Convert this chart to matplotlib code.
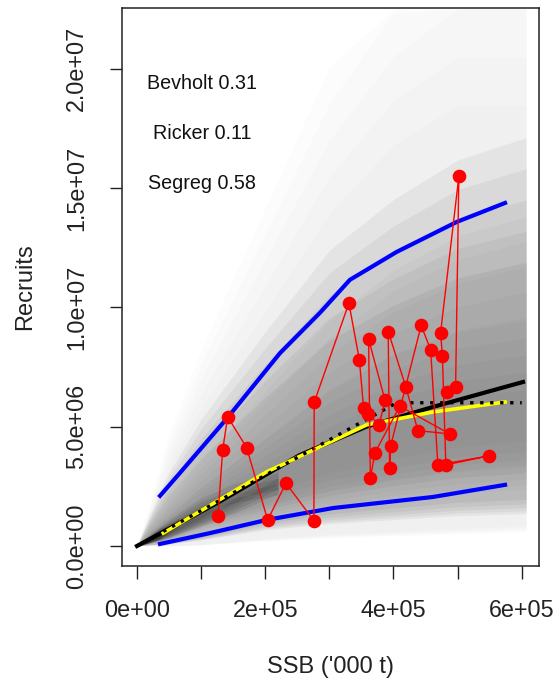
import numpy as np
import matplotlib
matplotlib.use("Agg")
from matplotlib import pyplot as plt

plt.rcParams['font.family'] = ['Liberation Sans', 'DejaVu Sans']

# observed stock-recruit pairs (SSB, recruits), in time order
ssb = [1.263e5, 1.336e5, 1.414e5, 1.710e5, 2.038e5, 2.323e5, 2.759e5, 2.764e5,
       3.305e5, 3.469e5, 3.534e5, 3.609e5, 3.777e5, 3.869e5, 3.612e5, 3.640e5,
       3.710e5, 4.100e5, 4.875e5, 4.381e5, 4.194e5, 3.918e5, 3.940e5, 3.957e5,
       4.432e5, 4.579e5, 4.693e5, 5.488e5, 4.817e5, 4.763e5, 4.735e5, 5.020e5,
       4.969e5, 4.828e5]
rec = [1.258e6, 4.025e6, 5.409e6, 4.122e6, 1.090e6, 2.629e6, 1.061e6, 6.017e6,
       1.0176e7, 7.786e6, 5.786e6, 5.535e6, 5.086e6, 6.101e6, 8.667e6, 2.851e6,
       3.899e6, 5.857e6, 4.696e6, 4.834e6, 6.654e6, 8.985e6, 3.258e6, 4.201e6,
       9.237e6, 8.231e6, 3.396e6, 3.774e6, 3.396e6, 7.967e6, 8.931e6, 1.5485e7,
       6.654e6, 6.470e6]

# percentile lines
p_ssb = [3.59e4, 6.7e4, 1.42e5, 2.23e5, 2.85e5, 3.32e5, 4.05e5, 4.99e5, 5.74e5]
p95 = [2.1e6, 3.06e6, 5.4e6, 8.08e6, 9.76e6, 1.115e7, 1.232e7, 1.358e7, 1.437e7]
q_ssb = [3.59e4, 1.14e5, 2.02e5, 3.06e5, 4.61e5, 5.74e5]
p05 = [8.4e4, 5.4e5, 1.09e6, 1.59e6, 2.05e6, 2.56e6]

med_ssb = [0, 1.25e5, 2.02e5, 2.54e5, 3.58e5, 4.61e5, 6.02e5]
med_rec = [0, 1.8e6, 3.0e6, 3.81e6, 5.0e6, 5.82e6, 6.87e6]

yel_ssb = [4.1e4, 2.02e5, 3.58e5, 4.61e5, 5.74e5]
yel_rec = [5.4e5, 3.1e6, 5.07e6, 5.61e6, 6.03e6]

seg_ssb = [0, 4.05e5, 6.0e5]
seg_rec = [0, 6.0e6, 6.0e6]

# simulated cloud, drawn as nested bands (edges)
cl_ssb = [0, 0.2e5, 0.5e5, 1e5, 2e5, 3e5, 4e5, 5e5, 6.07e5]
band_hi = [
    [0, 1.5e6, 4.0e6, 7.0e6, 1.2e7, 1.7e7, 2.05e7, 2.25e7, 2.25e7],
    [0, 1.1e6, 2.6e6, 4.5e6, 7.6e6, 1.05e7, 1.23e7, 1.37e7, 1.45e7],
    [0, 0.7e6, 1.6e6, 3.0e6, 5.5e6, 8.0e6, 9.8e6, 1.1e7, 1.17e7],
    [0, 0.5e6, 1.1e6, 2.1e6, 3.8e6, 5.5e6, 6.8e6, 7.6e6, 8.0e6],
]
band_lo = [
    [0, 0, 0, 0.05e6, 0.25e6, 0.4e6, 0.5e6, 0.6e6, 0.7e6],
    [0, 0.05e6, 0.1e6, 0.3e6, 0.8e6, 1.1e6, 1.3e6, 1.5e6, 1.6e6],
    [0, 0.1e6, 0.3e6, 0.8e6, 1.4e6, 1.9e6, 2.3e6, 2.6e6, 2.8e6],
    [0, 0.15e6, 0.4e6, 1.0e6, 1.8e6, 2.5e6, 3.0e6, 3.4e6, 3.6e6],
]
band_alpha = [0.06, 0.22, 0.09, 0.1]

core_ssb = [0, 0.2e5, 0.5e5, 1e5, 1.5e5, 2.2e5]
core_hi = [0, 0.4e6, 0.95e6, 1.7e6, 2.2e6, 2.6e6]
core_lo = [0, 0.15e6, 0.4e6, 0.95e6, 1.6e6, 2.6e6]

tip_ssb = [0, 0.15e5, 0.35e5, 0.65e5]
tip_hi = [0, 0.3e6, 0.65e6, 0.95e6]
tip_lo = [0, 0.1e6, 0.3e6, 0.95e6]

labels = ["Bevholt 0.31", "Ricker 0.11", "Segreg 0.58"]
label_y = [1.937e7, 1.7275e7, 1.518e7]

fig = plt.figure(figsize=(5.53, 6.83), dpi=100)
ax = fig.add_axes([122/553, 1-566/683, 417/553, 558/683])

# soften band edges by stacking slightly scaled copies
soft = [0.82, 0.91, 1.0, 1.09, 1.18]
for hi, lo, a in zip(band_hi, band_lo, band_alpha):
    per = 1 - (1 - a) ** (1 / len(soft))
    for k in soft:
        ax.fill_between(cl_ssb, np.array(lo) / k, np.minimum(np.array(hi) * k, 2.25e7),
                        color='black', alpha=per, lw=0)
for k in soft:
    ax.fill_between(core_ssb, np.array(core_lo) / k, np.array(core_hi) * k,
                    color='black', alpha=0.08, lw=0)
    ax.fill_between(tip_ssb, np.array(tip_lo) / k, np.array(tip_hi) * k,
                    color='black', alpha=0.1, lw=0)

ax.plot(p_ssb, p95, color='#0000ff', lw=3)
ax.plot(q_ssb, p05, color='#0000ff', lw=3)
ax.plot(med_ssb, med_rec, color='black', lw=3)
ax.plot(yel_ssb, yel_rec, color='#ffff00', lw=2.6)
ax.plot(seg_ssb, seg_rec, color='black', lw=2.4, ls=(0, (1, 2)))

ax.plot(ssb, rec, color='#ff0000', lw=1.0, marker='o', ms=8.8, mec='#ff0000', mfc='#ff0000')

for t, yy in zip(labels, label_y):
    ax.text(1.013e5, yy, t, ha='center', va='center', fontsize=14.2, color='#111111')

ax.set_xlim(-2.34e4, 6.27e5)
ax.set_ylim(-8.4e5, 2.254e7)

ax.set_xticks([0, 1e5, 2e5, 3e5, 4e5, 5e5, 6e5])
ax.set_xticklabels(["0e+00", "", "2e+05", "", "4e+05", "", "6e+05"])
ax.set_yticks([0, 5e6, 1e7, 1.5e7, 2e7])
ax.set_yticklabels(["0.0e+00", "5.0e+06", "1.0e+07", "1.5e+07", "2.0e+07"],
                   rotation=90, va='center')
ax.tick_params(axis='x', length=9, width=1, pad=15, labelsize=16.8, colors='#222222')
ax.tick_params(axis='y', length=9, width=1, pad=15.5, labelsize=16.8, colors='#222222')
for s in ax.spines.values():
    s.set_linewidth(1.1)
    s.set_color('#222222')

fig.text(330.5/553, 1-667/683, "SSB ('000 t)", ha='center', va='center', fontsize=17, color='#222222')
fig.text(25/553, 1-287/683, "Recruits", ha='center', va='center', rotation=90, fontsize=17, color='#222222')

plt.savefig("out.png", dpi=100)
plt.close()
